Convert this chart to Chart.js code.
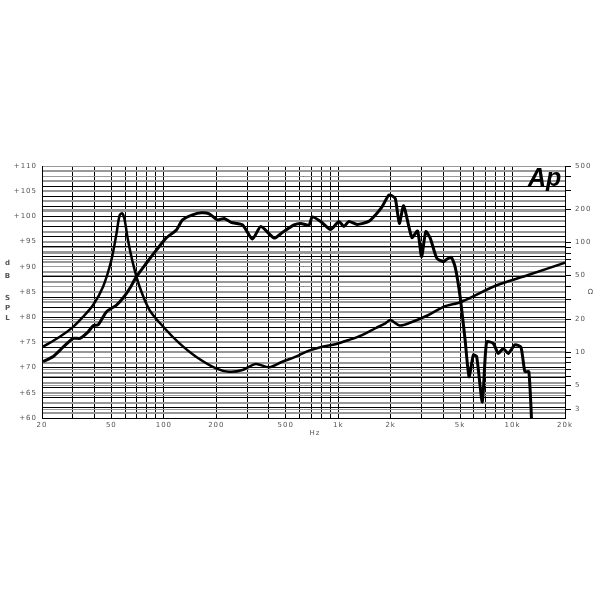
<!DOCTYPE html>
<html>
<head>
<meta charset="utf-8">
<script src="https://cdn.jsdelivr.net/npm/chart.js@4"></script>
<style>
  html, body { margin: 0; padding: 0; background: #fff; }
  #wrap { width: 600px; height: 600px; }
</style>
</head>
<body>
<div id="wrap"><canvas id="respChart" width="600" height="600"></canvas></div>
<script>
// SPL curve (Hz / dB)
const splFreq = [20.3, 23.2, 26.5, 30.2, 33.0, 36.8, 39.3, 42.0, 46.9, 53.5, 58.3, 63.7, 69.5, 79.3, 90.5,
  103, 118, 128, 146, 164, 182, 203, 222, 243, 283, 322, 360, 429, 478, 558, 610, 680, 710, 793, 905,
  1009, 1078, 1151, 1284, 1497, 1636, 1784, 1948, 2034, 2128, 2243, 2374, 2647, 2854, 3008, 3182, 3373,
  3679, 4018, 4195, 4446, 4686, 5004, 5346, 5634, 5962, 6226, 6711, 7101, 7757, 8282, 8843, 9445,
  10318, 11168, 11773, 12407, 12957];
const splDb = [71.2, 72.2, 74.1, 75.8, 75.8, 77.1, 78.3, 78.5, 81.1, 82.4, 83.8, 85.7, 88.0, 90.7, 93.3,
  95.7, 97.3, 99.3, 100.3, 100.7, 100.5, 99.3, 99.6, 98.8, 98.3, 95.5, 98.0, 95.7, 96.8, 98.3, 98.6, 98.3,
  99.9, 99.0, 97.4, 99.0, 98.0, 99.0, 98.4, 99.0, 100.3, 101.9, 104.2, 104.1, 103.5, 98.6, 102.1, 95.8,
  97.1, 92.0, 97.0, 95.7, 91.7, 91.0, 91.5, 91.9, 90.0, 84.1, 75.5, 68.2, 72.5, 72.2, 63.2, 75.1, 74.8,
  72.8, 73.8, 72.8, 74.5, 74.1, 69.2, 69.2, 57];

// Impedance curve (Hz / ohm)
const impFreq = [20.3, 25.3, 30.2, 34.4, 39.3, 44.8, 50.0, 53.5, 55.8, 57.8, 59.6, 62.3, 66.5, 72.6, 82.8,
  101, 123, 153, 199, 237, 283, 337, 402, 478, 571, 680, 810, 966, 1151, 1371, 1636, 1865, 1992, 2252,
  2602, 3297, 4018, 5111, 7932, 12292, 20000];
const impOhm = [11.2, 13.8, 17.0, 21.0, 26.9, 39.5, 69.3, 121, 178, 185, 161, 105, 64.6, 39.5, 24.2,
  16.5, 12.0, 9.07, 7.10, 6.61, 6.86, 7.78, 7.26, 8.16, 9.07, 10.3, 11.2, 11.8, 12.9, 14.3, 16.5, 18.3,
  19.6, 17.5, 18.6, 21.8, 25.9, 28.8, 40.1, 50.5, 65.5];

// axis ticks
const freqGrid = [20, 30, 40, 50, 60, 70, 80, 90, 100, 200, 300, 400, 500, 600, 700, 800, 900,
  1000, 2000, 3000, 4000, 5000, 6000, 7000, 8000, 9000, 10000, 20000];
const freqLabels = { 20: '20', 50: '50', 100: '100', 200: '200', 500: '500', 1000: '1k',
  2000: '2k', 5000: '5k', 10000: '10k', 20000: '20k' };
const dbLabels = ['+60', '+65', '+70', '+75', '+80', '+85', '+90', '+95', '+100', '+105', '+110'];
const ohmTicks = [3, 4, 5, 6, 7, 8, 9, 10, 20, 30, 40, 50, 60, 70, 80, 90, 100, 200, 300, 400, 500];
const ohmLabels = [3, 5, 10, 20, 50, 100, 200, 500];

const labelFont = { family: 'DejaVu Sans', size: 7 };

// spaced-out letters like the original plot
const spacingPlugin = {
  id: 'spacing',
  beforeDraw(chart) { chart.ctx.letterSpacing = '1px'; }
};

// extra texts: axis names and logo
const textPlugin = {
  id: 'texts',
  afterDraw(chart) {
    const ctx = chart.ctx;
    ctx.save();
    ctx.fillStyle = '#555';
    ctx.font = 'bold 7px DejaVu Sans';
    ctx.textAlign = 'center';
    ctx.textBaseline = 'middle';
    const letters = ['d', 'B', 'S', 'P', 'L'];
    const ys = [263, 276, 298, 308, 318];
    letters.forEach((l, i) => ctx.fillText(l, 8, ys[i]));
    ctx.font = '7px DejaVu Sans';
    ctx.fillText('Hz', 315, 433);
    ctx.fillText('\u03A9', 591, 292);
    ctx.letterSpacing = '0px';
    ctx.fillStyle = '#000';
    ctx.font = 'bold italic 25px Liberation Sans';
    ctx.textAlign = 'left';
    ctx.fillText('Ap', 528, 179);
    ctx.restore();
  }
};

window.onload = () => {
  const ctx = document.getElementById('respChart').getContext('2d');
  new Chart(ctx, {
    type: 'line',
    data: {
      datasets: [
        {
          label: 'SPL',
          data: splFreq.map((f, i) => ({ x: f, y: splDb[i] })),
          yAxisID: 'y',
          borderColor: '#000',
          borderWidth: 3,
          pointRadius: 0,
          tension: 0.2
        },
        {
          label: 'Impedance',
          data: impFreq.map((f, i) => ({ x: f, y: impOhm[i] })),
          yAxisID: 'y2',
          borderColor: '#000',
          borderWidth: 2.5,
          pointRadius: 0,
          tension: 0.3
        }
      ]
    },
    options: {
      responsive: false,
      animation: false,
      layout: { padding: { top: 166, left: 0, right: 0, bottom: 0 } },
      plugins: { legend: { display: false }, tooltip: { enabled: false } },
      scales: {
        x: {
          type: 'logarithmic',
          min: 20,
          max: 20000,
          afterBuildTicks: (s) => { s.ticks = freqGrid.map(v => ({ value: v })); },
          afterFit: (s) => { s.height = 182; },
          ticks: {
            autoSkip: false,
            maxRotation: 0,
            padding: 3,
            color: '#555',
            font: labelFont,
            callback: (v) => freqLabels[v] || ''
          },
          grid: { color: '#000', lineWidth: 1, drawTicks: false },
          border: { color: '#000', width: 1 }
        },
        y: {
          type: 'linear',
          position: 'left',
          min: 60,
          max: 110,
          afterBuildTicks: (s) => {
            const t = [];
            for (let v = 60; v <= 110; v++) t.push({ value: v });
            s.ticks = t;
          },
          afterFit: (s) => { s.width = 42; },
          ticks: {
            autoSkip: false,
            padding: 5,
            color: '#555',
            font: labelFont,
            callback: (v) => (v % 5 === 0 ? dbLabels[(v - 60) / 5] : '')
          },
          grid: {
            drawTicks: false,
            color: (c) => (c.tick && c.tick.value % 2 === 1 ? '#999' : '#000'),
            lineWidth: (c) => (c.tick && c.tick.value % 2 === 1 ? 2 : 1)
          },
          border: { color: '#000', width: 1 }
        },
        y2: {
          type: 'logarithmic',
          position: 'right',
          min: 2.5,
          max: 500,
          afterBuildTicks: (s) => { s.ticks = ohmTicks.map(v => ({ value: v })); },
          afterFit: (s) => { s.width = 35; },
          ticks: {
            autoSkip: false,
            padding: 4,
            color: '#555',
            font: labelFont,
            callback: (v) => (ohmLabels.includes(v) ? String(v) : '')
          },
          grid: { color: '#999', lineWidth: 1, tickLength: 6, tickColor: '#000' },
          border: { color: '#000', width: 1 }
        }
      }
    },
    plugins: [spacingPlugin, textPlugin]
  });
};
</script>
</body>
</html>
